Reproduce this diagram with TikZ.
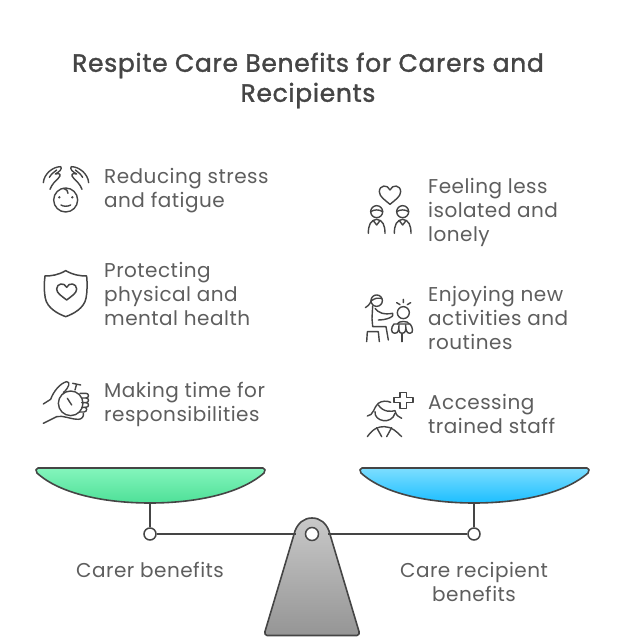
\documentclass[tikz,border=0pt]{standalone}
\usepackage{fontspec}
\setmainfont{Poppins}[LetterSpace=2.4]
\newfontfamily\ttlfont{Poppins}[FakeBold=1.4,LetterSpace=2.7]
\definecolor{ink}{HTML}{454545}
\definecolor{txt}{HTML}{5E5E5E}
\definecolor{gTop}{HTML}{84F5BC}
\definecolor{gBot}{HTML}{4EE098}
\definecolor{bTop}{HTML}{7DDEFF}
\definecolor{bBot}{HTML}{1CBEFF}
\definecolor{sTop}{HTML}{C8C8C8}
\definecolor{sBot}{HTML}{959595}
\tikzset{
  bodytext/.style={font=\fontsize{20}{24}\selectfont, text=txt, align=left, anchor=west, inner sep=0pt},
  captext/.style={font=\fontsize{20}{24}\selectfont, text=txt, align=center, inner sep=0pt},
  ttl/.style={font=\ttlfont\fontsize{25}{30}\selectfont, text=ink, align=center, inner sep=0pt},
  ico/.style={draw=ink, line width=1.4pt, line cap=round, line join=round},
  panshape/.style={draw=ink, line width=1.6pt, line join=round},
  barline/.style={draw=ink, line width=1.7pt},
  pivot/.style={circle, draw=ink, line width=1.5pt, fill=white, minimum size=12pt, inner sep=0pt},
  zoomA/.style={shift={(30,150)}, x=0.3333pt, y=-0.3333pt},
  zoomB/.style={shift={(350,170)}, x=0.3333pt, y=-0.3333pt}
}
\begin{document}
\begin{tikzpicture}[x=1pt,y=-1pt]
\useasboundingbox (0,0) rectangle (624,644);
\fill[white] (0,0) rectangle (624,644);
\node[ttl] (title) at (308,80.5) {Respite Care Benefits for Carers and\\Recipients};
\node[bodytext] (t1) at (104,190.5) {Reducing stress\\and fatigue};
\node[bodytext] (t2) at (104,294) {Protecting\\physical and\\mental health};
\node[bodytext] (t3) at (104,404) {Making time for\\responsibilities};
\node[bodytext] (t4) at (428,212) {Feeling less\\isolated and\\lonely};
\node[bodytext] (t5) at (428,318) {Enjoying new\\activities and\\routines};
\node[bodytext] (t6) at (428,414) {Accessing\\trained staff};
% icon 1
\begin{scope}[zoomA]
\draw[ico] (107,150) circle (12pt);
\fill[ink] (88,142) circle (1.3pt) (127,142) circle (1.3pt);
\draw[ico] (93,165) .. controls (100,170) and (114,170) .. (122,165);
\draw[ico] (100,115) .. controls (108,118) and (116,122) .. (114,130);
\draw[ico] (40,98) .. controls (42,72) and (68,50) .. (92,50) .. controls (98,56) and (88,66) .. (76,72) .. controls (90,68) and (96,74) .. (84,86) .. controls (76,94) and (66,102) .. (60,118);
\draw[ico] (58,82) .. controls (64,72) and (72,66) .. (80,60);
\draw[ico] (176,98) .. controls (174,72) and (148,50) .. (124,50) .. controls (118,56) and (128,66) .. (140,72) .. controls (126,68) and (120,74) .. (132,86) .. controls (140,94) and (150,102) .. (156,118);
\draw[ico] (158,82) .. controls (152,72) and (144,66) .. (136,60);
% icon 2
\draw[ico, line width=1.5pt] (107,362) .. controls (85,375) and (65,378) .. (45,378) .. controls (42,400) and (42,425) .. (46,445) .. controls (52,475) and (85,492) .. (107,500) .. controls (130,492) and (162,475) .. (168,445) .. controls (172,425) and (172,400) .. (170,378) .. controls (150,378) and (130,375) .. (107,362) -- cycle;
\draw[ico, line width=1.5pt] (110,450) .. controls (95,438) and (80,430) .. (80,417) .. controls (80,400) and (103,396) .. (110,412) .. controls (117,396) and (140,400) .. (140,417) .. controls (140,430) and (125,438) .. (110,450) -- cycle;
% icon 3
\draw[ico] (122,760) circle (12.3pt);
\draw[ico] (112,745) -- (125,765);
\draw[ico] (135,720) -- (140,702) (128,700) -- (152,705);
\draw[ico] (150,730) -- (168,730) .. controls (178,730) and (178,744) .. (168,744) -- (155,744);
\draw[ico] (168,744) .. controls (178,744) and (178,758) .. (168,758) -- (155,758);
\draw[ico] (168,758) .. controls (178,758) and (178,772) .. (168,772) -- (155,772);
\draw[ico] (165,772) .. controls (172,772) and (172,786) .. (162,786) -- (148,786);
\draw[ico] (40,762) -- (62,748) .. controls (70,725) and (90,700) .. (110,695) .. controls (122,695) and (118,712) .. (100,728);
\draw[ico] (40,820) -- (80,800) .. controls (100,795) and (120,808) .. (145,808) .. controls (155,808) and (162,800) .. (160,790);
\end{scope}
% right icons
\begin{scope}[zoomB]
% icon 4
\draw[ico] (120,103) .. controls (105,90) and (88,80) .. (88,65) .. controls (88,45) and (113,42) .. (120,60) .. controls (127,42) and (152,45) .. (152,65) .. controls (152,80) and (135,90) .. (120,103) -- cycle;
\foreach \c in {80,158} {
  \draw[ico] (\c,125) circle (6pt);
  \draw[ico] (\c-18,125) .. controls (\c-8,118) and (\c+8,118) .. (\c+18,125);
  \draw[ico] (\c-25,190) .. controls (\c-25,165) and (\c-18,150) .. (\c,148) .. controls (\c+18,150) and (\c+25,165) .. (\c+25,190);
  \draw[ico] (\c-10,152) -- (\c,165) -- (\c+10,152);
}
% icon 5
\draw[ico] (80,392) circle (5.7pt);
\draw[ico] (64,392) .. controls (75,385) and (85,382) .. (95,385);
\draw[ico] (64,392) .. controls (58,405) and (52,410) .. (46,413);
\draw[ico] (68,408) -- (66,445) -- (68,470) -- (108,470) -- (115,510);
\draw[ico] (75,415) .. controls (85,428) and (100,435) .. (128,430) .. controls (135,440) and (110,450) .. (85,450);
\draw[ico] (50,515) -- (52,485) -- (85,485) -- (88,515);
\draw[ico] (160,428) circle (6pt);
\draw[ico] (132,462) -- (180,462) .. controls (188,470) and (192,490) .. (180,490) .. controls (168,490) and (168,478) .. (167,466) .. controls (168,478) and (168,490) .. (156,490) .. controls (146,490) and (146,478) .. (147,466) .. controls (146,478) and (146,490) .. (134,490) .. controls (122,490) and (122,472) .. (132,462) -- cycle;
\draw[ico] (142,462) .. controls (144,452) and (176,452) .. (178,462);
\draw[ico] (156,490) -- (156,515);
\draw[ico] (140,398) -- (150,404) (160,388) -- (160,398) (182,398) -- (172,404);
% icon 6
\draw[ico] (150,683) -- (150,668) -- (170,668) -- (170,683) -- (189,683) -- (189,698) -- (170,698) -- (170,715) -- (150,715) -- (150,698) -- (132,698) -- (132,683) -- cycle;
\draw[ico] (75,725) .. controls (72,755) and (125,765) .. (135,730);
\draw[ico] (52,738) .. controls (70,738) and (72,710) .. (85,700) .. controls (95,692) and (112,692) .. (122,697);
\draw[ico] (85,705) .. controls (100,728) and (125,725) .. (135,722) .. controls (138,735) and (145,742) .. (155,745);
\draw[ico] (52,800) .. controls (70,775) and (85,770) .. (103,770) .. controls (125,770) and (140,785) .. (155,800);
\draw[ico] (80,773) -- (95,800) (125,773) -- (110,800);
\end{scope}
% base
\path[top color=sTop, bottom color=sBot, draw=ink, line width=1.6pt, line join=round]
  (267,635.5) .. controls (265,635.5) and (264.5,633) .. (265,631.5) -- (295,531) .. controls (298,523) and (304,518) .. (312,518) .. controls (320,518) and (326,523) .. (329,531) -- (359,631.5) .. controls (359.5,633) and (359,635.5) .. (357,635.5) -- cycle;
\node[pivot, minimum size=13pt] (hub) at (312,534) {};
% pans
\path[panshape, top color=gTop, bottom color=gBot]
  (38,468) -- (263,468) .. controls (265,468) and (266,471) .. (264,473) .. controls (240,494) and (195,503) .. (150,503) .. controls (105,503) and (60,494) .. (37,473) .. controls (35,471) and (36,468) .. (38,468) -- cycle;
\path[panshape, top color=bTop, bottom color=bBot]
  (362,468) -- (587,468) .. controls (589,468) and (590,471) .. (588,473) .. controls (564,494) and (519,503) .. (474,503) .. controls (429,503) and (384,494) .. (361,473) .. controls (359,471) and (360,468) .. (362,468) -- cycle;
\coordinate (panL) at (150,503);
\coordinate (panR) at (474,503);
\node[pivot] (pivL) at (150,534) {};
\node[pivot] (pivR) at (474,534) {};
\draw[barline] (panL) -- (pivL);
\draw[barline] (panR) -- (pivR);
\coordinate (baseL) at (296,534);
\coordinate (baseR) at (328,534);
\draw[barline] (pivL) -- (baseL);
\draw[barline] (pivR) -- (baseR);
\node[captext] (cL) at (150,570) {Carer benefits};
\node[captext] (cR) at (474,582) {Care recipient\\benefits};
\end{tikzpicture}
\end{document}
